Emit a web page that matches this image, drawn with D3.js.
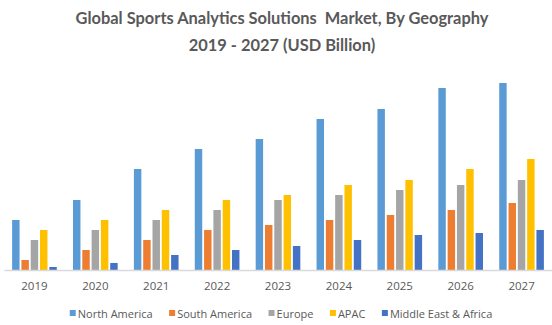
<!DOCTYPE html>
<html>
<head>
<meta charset="utf-8">
<script src="https://cdn.jsdelivr.net/npm/d3@7"></script>
<style>
html,body{margin:0;padding:0;background:#fff;}
svg{display:block;}
</style>
</head>
<body>
<svg id="chart" width="552" height="325"></svg>
<script>
const titleLines = ["Global Sports Analytics Solutions  Market, By Geography", "2019 - 2027 (USD Billion)"];
const years = ["2019","2020","2021","2022","2023","2024","2025","2026","2027"];
const seriesNames = ["North America","South America","Europe","APAC","Middle East & Africa"];
const seriesColors = ["#5B9BD5","#ED7D31","#A5A5A5","#FFC000","#4472C4"];
const northAmerica = [5.0, 7.0, 10.1, 12.1, 13.1, 15.1, 16.1, 18.2, 18.7];
const southAmerica = [1.0, 2.0, 3.0, 4.0, 4.5, 5.0, 5.5, 6.0, 6.7];
const europe       = [3.0, 4.0, 5.0, 6.0, 7.0, 7.5, 8.0, 8.5, 9.0];
const apac         = [4.0, 5.0, 6.0, 7.0, 7.5, 8.5, 9.0, 10.1, 11.1];
const mea          = [0.3, 0.7, 1.5, 2.0, 2.4, 3.0, 3.5, 3.7, 4.0];
const seriesValues = [northAmerica, southAmerica, europe, apac, mea];

const svg = d3.select("#chart");
const textColor = "#595959";

// Title
const title = svg.append("g");
const titleY = [24, 51];
titleLines.forEach((t, i) => {
  title.append("text")
    .attr("x", 282).attr("y", titleY[i])
    .attr("text-anchor", "middle")
    .attr("font-family", "Lato, 'Open Sans', sans-serif")
    .attr("font-weight", "bold")
    .attr("font-size", 16)
    .attr("fill", textColor)
    .attr("xml:space", "preserve")
    .text(t);
});
// fit first line width to reference
{
  const nodes = title.selectAll("text").nodes();
  const w = nodes[0].getComputedTextLength();
  const fs = 16 * 413 / w;
  nodes.forEach(n => n.setAttribute("font-size", fs.toFixed(2)));
}

const x0 = d3.scaleBand().domain(years).range([4, 552]).paddingInner(0.236).paddingOuter(0.118);
const x1 = d3.scaleBand().domain(seriesNames).range([0, x0.bandwidth()]).paddingInner(0.2).paddingOuter(0.1);
const y = d3.scaleLinear().domain([0, 20]).range([270, 70]);

const groups = svg.append("g").selectAll("g")
  .data(years)
  .join("g")
  .attr("transform", d => `translate(${x0(d)},0)`);

groups.selectAll("rect")
  .data((d, i) => seriesNames.map((s, k) => ({s, k, v: seriesValues[k][i]})))
  .join("rect")
  .attr("x", d => x1(d.s))
  .attr("width", x1.bandwidth())
  .attr("y", d => y(d.v))
  .attr("height", d => y(0) - y(d.v))
  .attr("fill", d => seriesColors[d.k]);

// x axis
const xAxis = svg.append("g").attr("transform", `translate(0,${y(0)})`)
  .call(d3.axisBottom(x0).tickSize(0).tickPadding(12));
xAxis.select(".domain").attr("stroke", "#D9D9D9").attr("stroke-width", 1.3);
xAxis.selectAll("text")
  .attr("font-family", "'Open Sans', sans-serif")
  .attr("font-size", 11.5)
  .attr("fill", textColor);

// legend
const legend = svg.append("g");
const items = legend.selectAll("g").data(seriesNames).join("g");
items.append("rect").attr("width", 6).attr("height", 6).attr("y", 310)
  .attr("fill", (d, i) => seriesColors[i]);
items.append("text").attr("x", 8).attr("y", 318)
  .attr("font-family", "'Open Sans', sans-serif")
  .attr("font-size", 11)
  .attr("fill", textColor)
  .text(d => d);
let cx = 0;
const positions = [];
items.each(function() {
  const tw = d3.select(this).select("text").node().getComputedTextLength();
  positions.push(cx);
  cx += 8 + tw + 16.5;
});
const total = cx - 16.5;
const startX = 281 - total / 2;
items.attr("transform", (d, i) => `translate(${startX + positions[i]},0)`);
</script>
</body>
</html>
